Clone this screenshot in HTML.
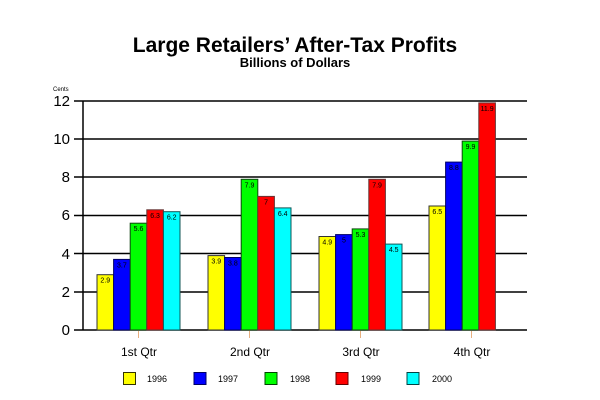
<!DOCTYPE html>
<html><head><meta charset="utf-8"><style>body{margin:0;background:#fff}svg{display:block}</style></head><body>
<svg width="600" height="400" xmlns="http://www.w3.org/2000/svg" font-family="Liberation Sans, Arial, sans-serif">
<rect width="600" height="400" fill="#fff"/>
<text x="295" y="52" font-size="21" font-weight="bold" text-anchor="middle">Large Retailers’ After-Tax Profits</text>
<text x="295" y="67" font-size="13" font-weight="bold" text-anchor="middle">Billions of Dollars</text>
<text x="53" y="91" font-size="6">Cents</text>
<g stroke="#000" stroke-width="1.5">
<line x1="74" y1="101" x2="527" y2="101"/>
<line x1="74" y1="139" x2="527" y2="139"/>
<line x1="74" y1="177" x2="527" y2="177"/>
<line x1="74" y1="215.5" x2="527" y2="215.5"/>
<line x1="74" y1="253.5" x2="527" y2="253.5"/>
<line x1="74" y1="292" x2="527" y2="292"/>
<line x1="74" y1="330" x2="527" y2="330"/>
<line x1="83" y1="101" x2="83" y2="330"/>
</g>
<g font-size="15" text-anchor="end">
<text x="70" y="106">12</text><text x="70" y="144">10</text><text x="70" y="182">8</text>
<text x="70" y="220">6</text><text x="70" y="259">4</text><text x="70" y="297">2</text><text x="70" y="335">0</text>
</g>
<g stroke="#e8b080" stroke-width="1">
<line x1="138.5" y1="331" x2="138.5" y2="338"/><line x1="249.5" y1="331" x2="249.5" y2="338"/>
<line x1="360.5" y1="331" x2="360.5" y2="338"/><line x1="471.5" y1="331" x2="471.5" y2="338"/>
</g>
<g stroke-width="1">
<rect x="97" y="274.7" width="16.6" height="55.3" fill="#ffff00" stroke="#333333"/>
<rect x="113.6" y="259.4" width="16.6" height="70.6" fill="#0000ff" stroke="#000066"/>
<rect x="130.2" y="223.2" width="16.6" height="106.8" fill="#00ff00" stroke="#114411"/>
<rect x="146.8" y="209.8" width="16.6" height="120.2" fill="#ff0000" stroke="#663333"/>
<rect x="163.4" y="211.7" width="16.6" height="118.3" fill="#00ffff" stroke="#115555"/>

<rect x="208" y="255.6" width="16.6" height="74.4" fill="#ffff00" stroke="#333333"/>
<rect x="224.6" y="257.5" width="16.6" height="72.5" fill="#0000ff" stroke="#000066"/>
<rect x="241.2" y="179.3" width="16.6" height="150.7" fill="#00ff00" stroke="#114411"/>
<rect x="257.8" y="196.4" width="16.6" height="133.6" fill="#ff0000" stroke="#663333"/>
<rect x="274.4" y="207.9" width="16.6" height="122.1" fill="#00ffff" stroke="#115555"/>

<rect x="319" y="236.5" width="16.6" height="93.5" fill="#ffff00" stroke="#333333"/>
<rect x="335.6" y="234.6" width="16.6" height="95.4" fill="#0000ff" stroke="#000066"/>
<rect x="352.2" y="228.9" width="16.6" height="101.1" fill="#00ff00" stroke="#114411"/>
<rect x="368.8" y="179.3" width="16.6" height="150.7" fill="#ff0000" stroke="#663333"/>
<rect x="385.4" y="244.1" width="16.6" height="85.9" fill="#00ffff" stroke="#115555"/>

<rect x="429" y="206" width="16.6" height="124" fill="#ffff00" stroke="#333333"/>
<rect x="445.6" y="162.1" width="16.6" height="167.9" fill="#0000ff" stroke="#000066"/>
<rect x="462.2" y="141.1" width="16.6" height="188.9" fill="#00ff00" stroke="#114411"/>
<rect x="478.8" y="102.9" width="16.6" height="227.1" fill="#ff0000" stroke="#663333"/>
</g>
<g font-size="7" text-anchor="middle">
<text x="105.3" y="282.7">2.9</text><text x="121.9" y="267.4">3.7</text><text x="138.5" y="231.2">5.6</text><text x="155.1" y="217.8">6.3</text><text x="171.7" y="219.7">6.2</text>
<text x="216.3" y="263.6">3.9</text><text x="232.9" y="265.5">3.8</text><text x="249.5" y="187.3">7.9</text><text x="266.1" y="204.4">7</text><text x="282.7" y="215.9">6.4</text>
<text x="327.3" y="244.5">4.9</text><text x="343.9" y="242.6">5</text><text x="360.5" y="236.9">5.3</text><text x="377.1" y="187.3">7.9</text><text x="393.7" y="252.1">4.5</text>
<text x="437.3" y="214">6.5</text><text x="453.9" y="170.1">8.8</text><text x="470.5" y="149.1">9.9</text><text x="487.1" y="110.9">11.9</text>
</g>
<g font-size="12" text-anchor="middle">
<text x="139" y="356">1st Qtr</text><text x="250" y="356">2nd Qtr</text>
<text x="361" y="356">3rd Qtr</text><text x="472" y="356">4th Qtr</text>
</g>
<g stroke-width="1">
<rect x="123.5" y="372.5" width="12" height="12" fill="#ffff00" stroke="#333300"/>
<rect x="194" y="372.5" width="12" height="12" fill="#0000ff" stroke="#000066"/>
<rect x="265" y="372.5" width="12" height="12" fill="#00ff00" stroke="#004400"/>
<rect x="336" y="372.5" width="12" height="12" fill="#ff0000" stroke="#660000"/>
<rect x="407" y="372.5" width="12" height="12" fill="#00ffff" stroke="#004444"/>
</g>
<g font-size="9">
<text x="147" y="382">1996</text><text x="218" y="382">1997</text><text x="290" y="382">1998</text>
<text x="361" y="382">1999</text><text x="432" y="382">2000</text>
</g>
</svg>
</body></html>
